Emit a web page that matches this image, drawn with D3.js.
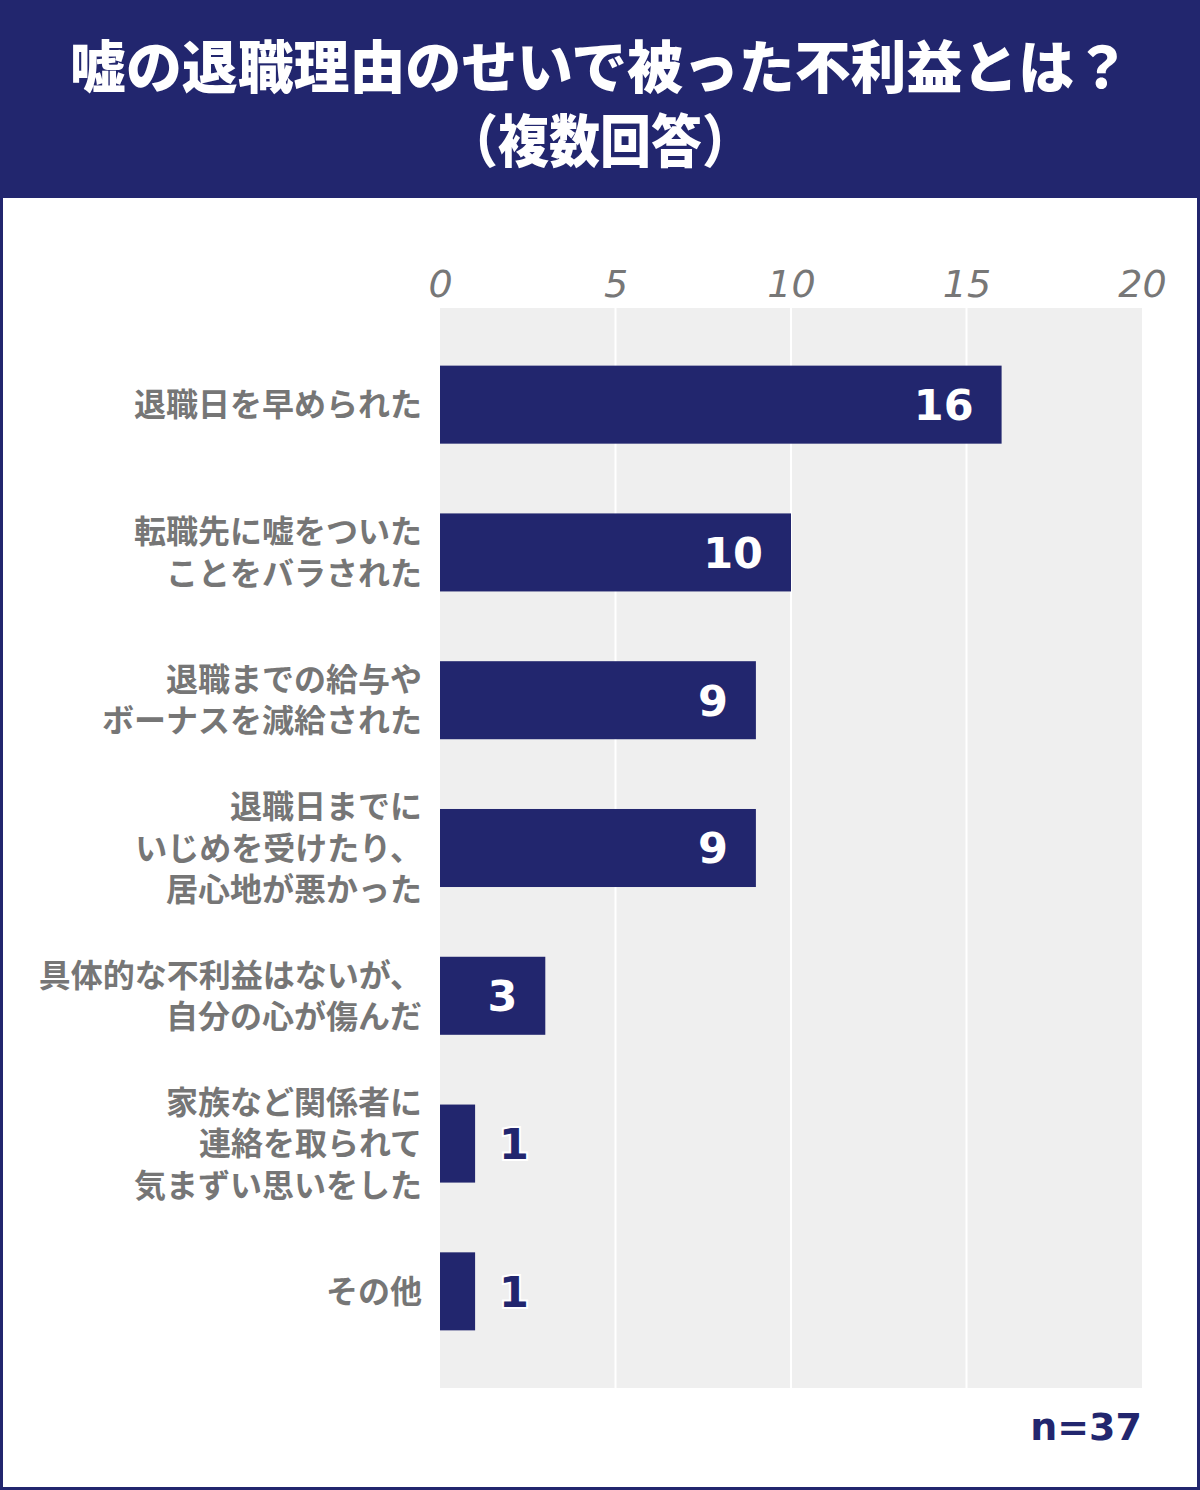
<!DOCTYPE html>
<html lang="ja">
<head>
<meta charset="UTF-8">
<script src="https://cdn.jsdelivr.net/npm/d3@7"></script>
<title>嘘の退職理由のせいで被った不利益とは？</title>
<style>
  body { margin: 0; background: #fff; }
  .tick text { font-family: "DejaVu Sans", sans-serif; font-style: italic; fill: #777; }
  .cat { font-family: "Noto Sans CJK JP", sans-serif; font-weight: 700; fill: #767676; }
  .val { font-family: "DejaVu Sans", sans-serif; font-weight: 700; }
</style>
</head>
<body>
<div id="chart"></div>
<script>
// 設問の選択肢（改行は \n）
var categories = [
  "退職日を早められた",
  "転職先に嘘をついた\nことをバラされた",
  "退職までの給与や\nボーナスを減給された",
  "退職日までに\nいじめを受けたり、\n居心地が悪かった",
  "具体的な不利益はないが、\n自分の心が傷んだ",
  "家族など関係者に\n連絡を取られて\n気まずい思いをした",
  "その他"
];
var values = [16, 10, 9, 9, 3, 1, 1];
var ticks = [0, 5, 10, 15, 20];
var titleLines = ["嘘の退職理由のせいで被った不利益とは？", "（複数回答）"];
var sampleNote = "n=37";

var W = 1200, H = 1490;
var navy = "#22266e";

var svg = d3.select("#chart").append("svg")
    .attr("width", W)
    .attr("height", H);

// 外枠とヘッダー
svg.append("rect").attr("x", 0).attr("y", 0).attr("width", W).attr("height", H).attr("fill", navy);
svg.append("rect").attr("x", 3).attr("y", 198).attr("width", W - 6).attr("height", H - 201).attr("fill", "#fff");

// タイトル（縦長の書体に寄せるため横方向を詰める）
var titleSpec = [
  {y: 88, len: 1060},
  {y: 162, len: 306}
];
svg.append("g")
    .selectAll("text")
    .data(titleLines)
    .join("text")
    .attr("x", 600)
    .attr("y", (d, i) => titleSpec[i].y)
    .attr("text-anchor", "middle")
    .attr("textLength", (d, i) => titleSpec[i].len)
    .attr("lengthAdjust", "spacingAndGlyphs")
    .style("font-family", "'Noto Sans CJK JP', sans-serif")
    .style("font-weight", 900).style("font-size", "57px")
    .attr("fill", "#fff")
    .text(d => d);

// スケール
var x = d3.scaleLinear().domain([0, 20]).range([440, 1142]);
var y = d3.scaleBand()
    .domain(categories)
    .range([308, 1388])
    .paddingInner(0.472)
    .paddingOuter(0.39);

// 背景とグリッド
svg.append("rect")
    .attr("x", x(0)).attr("y", 308)
    .attr("width", x(20) - x(0)).attr("height", 1388 - 308)
    .attr("fill", "#efefef");

svg.append("g")
    .selectAll("line")
    .data(ticks.slice(1, -1))
    .join("line")
    .attr("x1", d => x(d)).attr("x2", d => x(d))
    .attr("y1", 308).attr("y2", 1388)
    .attr("stroke", "#fff").attr("stroke-width", 2);

var axis = d3.axisTop(x).tickValues(ticks).tickSize(0).tickPadding(0);
var gAxis = svg.append("g")
    .attr("transform", "translate(0, 297)")
    .call(axis);
gAxis.select(".domain").remove();
gAxis.selectAll(".tick text").style("font-size", "38px").attr("dy", 0);

// 棒
svg.append("g")
    .selectAll("rect")
    .data(values)
    .join("rect")
    .attr("x", x(0))
    .attr("y", (d, i) => y(categories[i]))
    .attr("width", d => x(d) - x(0))
    .attr("height", y.bandwidth())
    .attr("fill", navy);

// 数値ラベル
svg.append("g")
    .selectAll("text")
    .data(values)
    .join("text")
    .attr("class", "val")
    .attr("x", d => d >= 3 ? x(d) - 28 : x(d) + 24)
    .attr("y", (d, i) => y(categories[i]) + y.bandwidth() / 2)
    .attr("dy", "0.36em")
    .attr("text-anchor", d => d >= 3 ? "end" : "start")
    .style("font-size", "43px")
    .attr("fill", d => d >= 3 ? "#fff" : navy)
    .attr("stroke", d => d >= 3 ? "none" : "#fff")
    .attr("stroke-width", 4)
    .style("paint-order", "stroke")
    .text(d => d);

// 項目ラベル
var lineH = 41.5;
svg.append("g")
    .selectAll("text")
    .data(categories)
    .join("text")
    .attr("class", "cat")
    .attr("text-anchor", "end")
    .style("font-size", "32px")
    .each(function(c) {
        var lines = c.split("\n");
        var cy = y(c) + y.bandwidth() / 2;
        var t0 = cy - (lines.length - 1) * lineH / 2;
        d3.select(this).selectAll("tspan")
            .data(lines)
            .join("tspan")
            .attr("x", 422)
            .attr("y", (l, j) => t0 + j * lineH)
            .attr("dy", "0.36em")
            .text(l => l);
    });

svg.append("text")
    .attr("class", "val")
    .attr("x", 1142).attr("y", 1440)
    .attr("text-anchor", "end")
    .style("font-size", "38px")
    .attr("fill", navy)
    .text(sampleNote);
</script>
</body>
</html>
